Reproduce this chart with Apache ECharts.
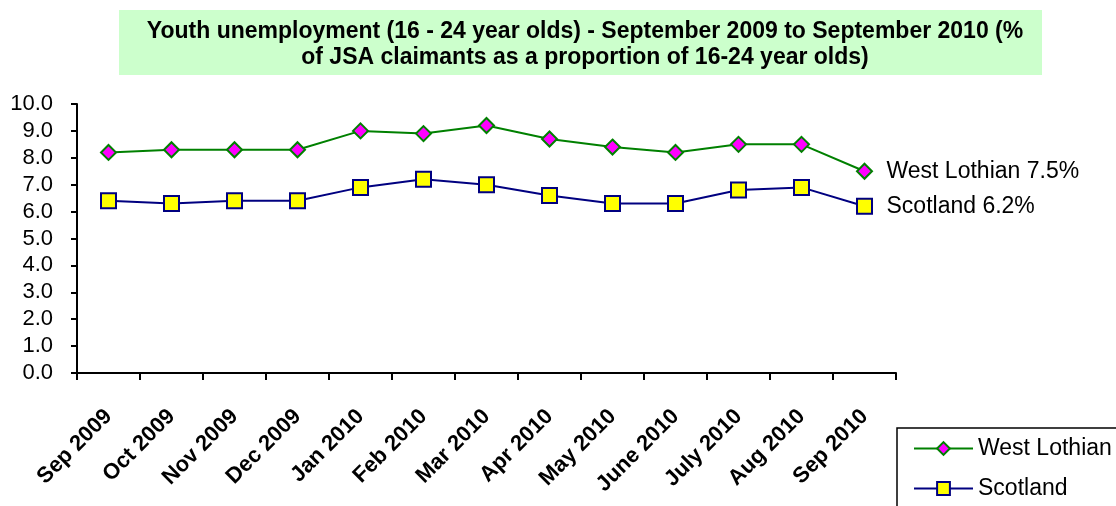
<!DOCTYPE html>
<html>
<head>
<meta charset="utf-8">
<script src="https://cdn.jsdelivr.net/npm/echarts@6/dist/echarts.min.js"></script>
<style>
  html, body { margin: 0; padding: 0; background: #fff; }
  #main { width: 1116px; height: 506px; }
</style>
</head>
<body>
<div id="main"></div>
<script>
var months = ['Sep 2009', 'Oct 2009', 'Nov 2009', 'Dec 2009', 'Jan 2010', 'Feb 2010', 'Mar 2010',
  'Apr 2010', 'May 2010', 'June 2010', 'July 2010', 'Aug 2010', 'Sep 2010'];
var westLothian = [8.2, 8.3, 8.3, 8.3, 9.0, 8.9, 9.2, 8.7, 8.4, 8.2, 8.5, 8.5, 7.5];
var scotland = [6.4, 6.3, 6.4, 6.4, 6.9, 7.2, 7.0, 6.6, 6.3, 6.3, 6.8, 6.9, 6.2];

var chart = echarts.init(document.getElementById('main'));
var font = 'Liberation Sans, Arial, sans-serif';

function endLabel() {
  return {
    show: true,
    distance: 22,
    fontSize: 23,
    color: '#000',
    fontFamily: font,
    formatter: function (p) { return p.seriesName + ' ' + p.value.toFixed(1) + '%'; }
  };
}

var option = {
  animation: false,
  textStyle: { fontFamily: font },
  graphic: [
    {
      // title background
      type: 'rect',
      z: 0,
      shape: { x: 119, y: 10, width: 923, height: 65 },
      style: { fill: '#ccffcc' }
    },
    {
      // legend frame (runs off the edge like the original)
      type: 'rect',
      z: 0,
      shape: { x: 897, y: 428, width: 300, height: 120 },
      style: { fill: '#fff', stroke: '#000', lineWidth: 1.5 }
    }
  ],
  title: {
    text: 'Youth unemployment (16 - 24 year olds) - September 2009 to September 2010 (%\nof JSA claimants as a proportion of 16-24 year olds)',
    left: 580,
    top: 14,
    textAlign: 'center',
    textStyle: { fontSize: 23, fontWeight: 'bold', color: '#000', lineHeight: 26, fontFamily: font }
  },
  legend: {
    orient: 'vertical',
    left: 913,
    top: 437,
    padding: 0,
    itemWidth: 59,
    itemHeight: 16,
    itemGap: 17,
    textStyle: { fontSize: 23, color: '#000', fontFamily: font }
  },
  grid: { left: 77, right: 220, top: 104, bottom: 133, containLabel: false },
  xAxis: {
    type: 'category',
    data: months,
    boundaryGap: true,
    axisLine: { lineStyle: { color: '#000', width: 2 } },
    axisTick: { show: true, length: 7, alignWithLabel: false, lineStyle: { color: '#000', width: 2 } },
    axisLabel: {
      interval: 0,
      rotate: 45,
      margin: 40,
      fontSize: 22,
      fontWeight: 'bold',
      color: '#000',
      fontFamily: font
    }
  },
  yAxis: {
    type: 'value',
    min: 0,
    max: 10,
    interval: 1,
    splitLine: { show: false },
    axisLine: { show: true, lineStyle: { color: '#000', width: 2 } },
    axisTick: { show: true, length: 6, lineStyle: { color: '#000', width: 2 } },
    axisLabel: {
      margin: 24,
      fontSize: 22,
      color: '#000',
      fontFamily: font,
      formatter: function (v) { return v.toFixed(1); }
    }
  },
  series: [
    {
      name: 'West Lothian',
      type: 'line',
      data: westLothian,
      symbol: 'diamond',
      symbolSize: 15,
      lineStyle: { color: '#008000', width: 2 },
      itemStyle: { color: '#ff00ff', borderColor: '#008000', borderWidth: 2 },
      endLabel: endLabel()
    },
    {
      name: 'Scotland',
      type: 'line',
      data: scotland,
      symbol: 'rect',
      symbolSize: 15,
      lineStyle: { color: '#000080', width: 2 },
      itemStyle: { color: '#ffff00', borderColor: '#000080', borderWidth: 2 },
      endLabel: endLabel()
    }
  ]
};

chart.setOption(option);
</script>
</body>
</html>
